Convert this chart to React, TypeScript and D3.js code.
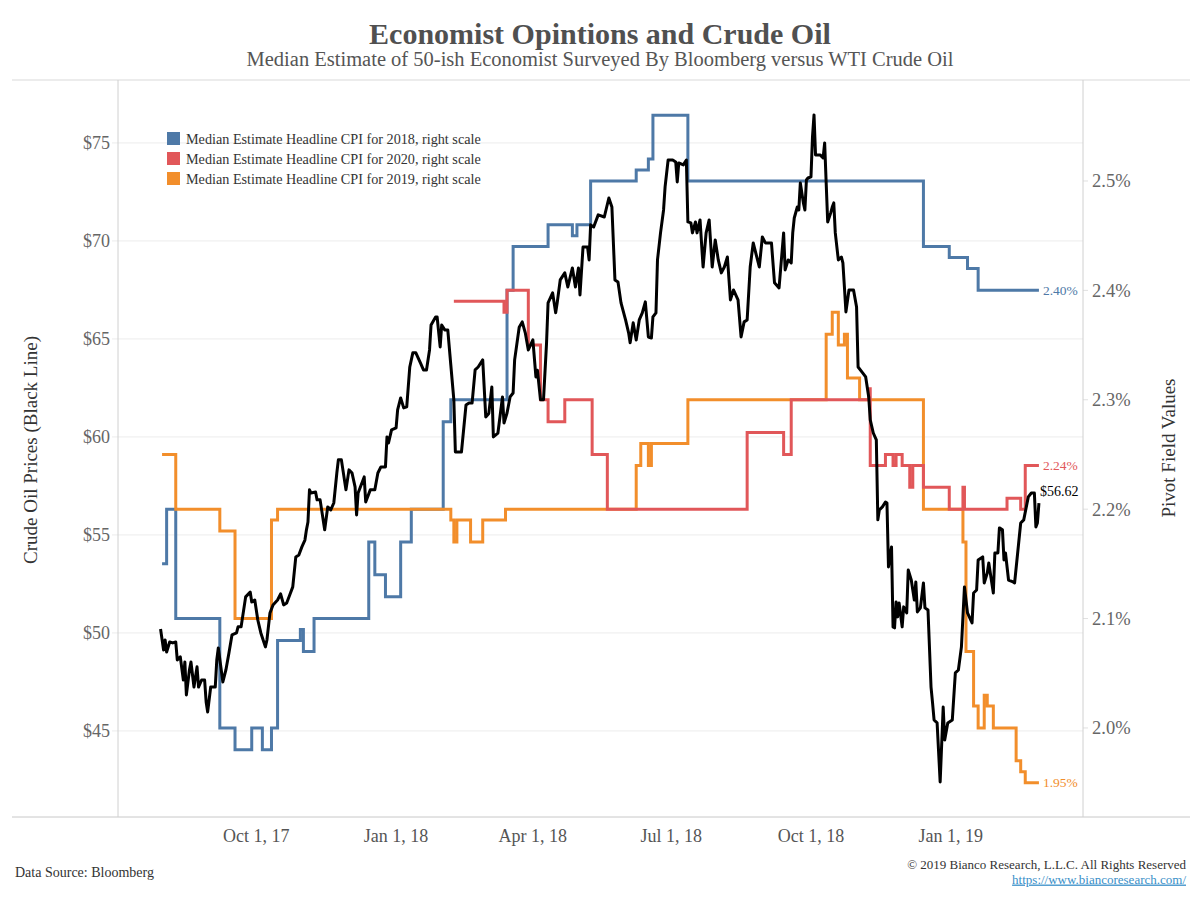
import React from "react";
import * as d3 from "d3";

// ---------- DATA ----------
const oilDates = [
"2017-07-30","2017-08-01","2017-08-02","2017-08-03","2017-08-05","2017-08-07","2017-08-09","2017-08-10","2017-08-12","2017-08-14",
"2017-08-15","2017-08-16","2017-08-18","2017-08-19","2017-08-21","2017-08-23","2017-08-24","2017-08-26","2017-08-28","2017-08-29",
"2017-08-30","2017-09-01","2017-09-04","2017-09-05","2017-09-06","2017-09-09","2017-09-11","2017-09-13","2017-09-15","2017-09-18",
"2017-09-19","2017-09-21","2017-09-24","2017-09-27","2017-09-28","2017-09-30","2017-10-02","2017-10-04","2017-10-07","2017-10-08",
"2017-10-10","2017-10-12","2017-10-15","2017-10-17","2017-10-19","2017-10-21","2017-10-23","2017-10-25","2017-10-27","2017-10-29",
"2017-10-31","2017-11-02","2017-11-03","2017-11-04","2017-11-05","2017-11-06","2017-11-09","2017-11-10","2017-11-12","2017-11-13",
"2017-11-15","2017-11-17","2017-11-19","2017-11-21","2017-11-23","2017-11-24","2017-11-26","2017-11-29","2017-12-01","2017-12-03",
"2017-12-05","2017-12-06","2017-12-07","2017-12-11","2017-12-12","2017-12-15","2017-12-18","2017-12-20","2017-12-22","2017-12-25",
"2017-12-26","2017-12-27","2017-12-29","2018-01-01","2018-01-02","2018-01-04","2018-01-06","2018-01-08","2018-01-10","2018-01-12",
"2018-01-14","2018-01-17","2018-01-19","2018-01-21","2018-01-23","2018-01-24","2018-01-27","2018-01-28","2018-01-30","2018-01-31",
"2018-02-02","2018-02-04","2018-02-06","2018-02-08","2018-02-09","2018-02-13","2018-02-16","2018-02-18","2018-02-20","2018-02-22",
"2018-02-24","2018-02-27","2018-03-01","2018-03-03","2018-03-05","2018-03-06","2018-03-09","2018-03-12","2018-03-13","2018-03-15",
"2018-03-17","2018-03-19","2018-03-20","2018-03-23","2018-03-25","2018-03-27","2018-03-29","2018-04-01","2018-04-03","2018-04-04",
"2018-04-06","2018-04-08","2018-04-10","2018-04-11","2018-04-14","2018-04-16","2018-04-17","2018-04-19","2018-04-22","2018-04-24",
"2018-04-27","2018-04-29","2018-05-01","2018-05-02","2018-05-04","2018-05-07","2018-05-08","2018-05-09","2018-05-11","2018-05-14",
"2018-05-18","2018-05-21","2018-05-23","2018-05-25","2018-05-27","2018-05-29","2018-06-01","2018-06-03","2018-06-04","2018-06-06",
"2018-06-08","2018-06-10","2018-06-12","2018-06-14","2018-06-16","2018-06-18","2018-06-19","2018-06-21","2018-06-22","2018-06-24",
"2018-06-26","2018-06-27","2018-06-29","2018-07-02","2018-07-04","2018-07-05","2018-07-06","2018-07-09","2018-07-11","2018-07-12",
"2018-07-14","2018-07-15","2018-07-17","2018-07-18","2018-07-20","2018-07-22","2018-07-24","2018-07-26","2018-07-28","2018-07-30",
"2018-08-01","2018-08-03","2018-08-05","2018-08-07","2018-08-09","2018-08-11","2018-08-14","2018-08-16","2018-08-18","2018-08-20",
"2018-08-22","2018-08-24","2018-08-28","2018-08-30","2018-09-01","2018-09-05","2018-09-07","2018-09-10","2018-09-13","2018-09-14",
"2018-09-16","2018-09-18","2018-09-19","2018-09-20","2018-09-22","2018-09-23","2018-09-24","2018-09-26","2018-09-27","2018-09-28",
"2018-09-29","2018-10-01","2018-10-02","2018-10-03","2018-10-04","2018-10-07","2018-10-09","2018-10-10","2018-10-11","2018-10-12",
"2018-10-14","2018-10-15","2018-10-16","2018-10-17","2018-10-19","2018-10-21","2018-10-22","2018-10-23","2018-10-24","2018-10-26",
"2018-10-29","2018-10-31","2018-11-01","2018-11-04","2018-11-06","2018-11-08","2018-11-09","2018-11-11","2018-11-13","2018-11-14",
"2018-11-15","2018-11-17","2018-11-19","2018-11-20","2018-11-21","2018-11-23","2018-11-24","2018-11-25","2018-11-26","2018-11-27",
"2018-11-28","2018-11-30","2018-12-01","2018-12-03","2018-12-04","2018-12-06","2018-12-08","2018-12-09","2018-12-10","2018-12-12",
"2018-12-14","2018-12-15","2018-12-17","2018-12-19","2018-12-20","2018-12-21","2018-12-23","2018-12-25","2018-12-27","2018-12-28",
"2018-12-30","2019-01-02","2019-01-04","2019-01-06","2019-01-08","2019-01-10","2019-01-12","2019-01-15","2019-01-16","2019-01-18",
"2019-01-19","2019-01-22","2019-01-23","2019-01-25","2019-01-26","2019-01-29","2019-01-30","2019-02-01","2019-02-02","2019-02-04",
"2019-02-05","2019-02-06","2019-02-08","2019-02-11","2019-02-12","2019-02-14","2019-02-16","2019-02-18","2019-02-21","2019-02-23",
"2019-02-25","2019-02-26","2019-02-27","2019-02-28"];
const oilPrices = [
50.20,49.13,49.64,49.03,49.54,49.49,49.54,48.62,48.78,47.60,
48.52,46.84,48.11,48.52,47.24,48.27,47.24,47.60,47.60,46.48,
45.97,47.24,47.24,48.62,49.23,47.50,48.11,48.98,49.90,50.00,
50.31,50.31,51.84,52.09,51.58,51.68,50.66,50.00,49.29,49.64,
51.02,51.43,51.68,51.99,51.43,51.53,51.94,52.35,53.88,53.98,
54.39,54.74,55.26,55.66,57.30,57.14,57.19,56.79,56.79,56.28,
55.26,56.43,56.28,56.63,58.16,58.83,58.83,57.30,58.32,58.16,
57.45,56.02,57.14,57.96,56.68,57.30,57.30,58.16,58.47,58.47,
60.00,59.69,60.36,60.46,61.38,61.99,61.48,61.53,63.57,64.29,
64.29,63.78,63.42,63.42,64.44,65.71,66.12,66.12,64.59,65.71,
65.46,65.46,63.67,61.89,59.23,59.23,61.63,61.73,61.73,63.42,
63.57,63.93,61.02,61.20,62.55,60.00,60.20,62.04,60.71,61.22,
62.04,62.24,63.93,65.60,65.87,65.31,64.44,64.95,63.06,63.40,
61.90,61.90,64.80,66.84,67.35,66.33,66.84,68.01,68.37,67.65,
68.62,67.65,68.62,67.24,69.69,69.69,69.03,70.82,70.71,71.33,
71.22,72.19,71.73,68.01,67.91,66.84,65.97,65.31,64.80,65.82,
64.95,65.97,66.33,66.89,65.10,65.05,66.12,66.33,69.03,70.41,
71.58,72.76,74.13,74.13,74.03,73.01,73.98,73.88,74.13,70.97,
70.92,70.41,70.97,70.41,71.07,68.67,70.41,71.07,68.67,70.05,
69.03,68.37,68.67,69.18,66.99,67.50,66.99,65.10,65.87,65.97,
68.67,69.90,68.67,70.20,69.90,69.90,67.86,67.60,70.41,68.52,
69.03,68.88,70.41,71.17,71.73,71.58,72.96,71.94,71.58,73.11,
73.21,73.27,75.31,76.43,74.39,74.39,74.23,75.00,72.96,70.97,
71.43,71.73,71.94,70.41,69.03,69.18,68.88,67.65,66.38,67.50,
67.50,66.63,63.57,63.27,63.06,62.04,60.87,60.20,59.85,55.77,
56.28,56.43,56.68,56.63,53.37,54.39,50.31,50.26,51.58,50.82,
51.53,50.31,51.33,51.02,53.21,52.70,51.68,52.60,51.07,51.28,
52.55,51.28,51.17,47.24,46.43,45.56,45.41,42.40,46.22,44.54,
45.41,45.56,47.96,48.11,49.29,52.35,51.02,50.51,52.04,52.19,
53.72,53.88,52.55,53.06,53.57,52.04,54.08,54.08,55.36,55.26,
53.72,54.08,52.70,52.60,52.55,54.08,55.61,55.77,56.94,57.14,
57.14,55.41,55.61,56.62];

const cpi2018Dates = ["2017-07-31","2017-08-03","2017-08-09","2017-09-07","2017-09-17","2017-09-28","2017-10-05","2017-10-11","2017-10-15","2017-10-30","2017-11-01","2017-11-08","2017-12-14","2017-12-18","2017-12-25","2018-01-04","2018-01-11","2018-02-01","2018-02-06","2018-03-15","2018-03-19","2018-04-11","2018-04-27","2018-04-30","2018-05-09","2018-06-08","2018-06-16","2018-06-19","2018-07-12","2018-12-14","2018-12-31","2019-01-12","2019-01-19","2019-02-28"];
const cpi2018Values = [2.15,2.20,2.10,2.00,1.98,2.00,1.98,2.00,2.08,2.09,2.07,2.10,2.17,2.14,2.12,2.17,2.20,2.28,2.30,2.40,2.44,2.46,2.45,2.46,2.50,2.51,2.52,2.56,2.50,2.44,2.43,2.42,2.40,2.40];

const cpi2020Dates = ["2018-02-08","2018-03-13","2018-03-15","2018-03-29","2018-04-06","2018-04-11","2018-04-22","2018-05-10","2018-05-20","2018-08-20","2018-09-13","2018-09-18","2018-11-08","2018-11-09","2018-11-19","2018-11-24","2018-11-26","2018-11-30","2018-12-05","2018-12-07","2018-12-14","2018-12-31","2019-01-09","2019-01-10","2019-02-07","2019-02-16","2019-02-19","2019-02-28"];
const cpi2020Values = [2.39,2.38,2.40,2.35,2.30,2.28,2.30,2.25,2.20,2.27,2.25,2.30,2.31,2.24,2.25,2.24,2.25,2.24,2.22,2.24,2.22,2.20,2.22,2.20,2.21,2.20,2.24,2.24];

const cpi2019Dates = ["2017-07-31","2017-08-09","2017-09-07","2017-09-17","2017-10-11","2017-10-15","2018-02-06","2018-02-08","2018-02-10","2018-02-19","2018-02-27","2018-03-14","2018-06-08","2018-06-11","2018-06-16","2018-06-18","2018-07-12","2018-10-11","2018-10-15","2018-10-19","2018-10-23","2018-10-25","2018-11-02","2018-12-14","2019-01-09","2019-01-11","2019-01-16","2019-01-19","2019-01-23","2019-01-25","2019-01-29","2019-02-13","2019-02-16","2019-02-19","2019-02-28"];
const cpi2019Values = [2.25,2.20,2.18,2.10,2.19,2.20,2.19,2.17,2.19,2.17,2.19,2.20,2.24,2.26,2.24,2.26,2.30,2.36,2.38,2.35,2.36,2.32,2.30,2.20,2.17,2.07,2.02,2.00,2.03,2.02,2.00,1.97,1.96,1.95,1.95];

const xTickDates = ["2017-10-01","2018-01-01","2018-04-01","2018-07-01","2018-10-01","2019-01-01"];
const xTickLabels = ["Oct 1, 17","Jan 1, 18","Apr 1, 18","Jul 1, 18","Oct 1, 18","Jan 1, 19"];
const leftTicks = [45, 50, 55, 60, 65, 70, 75];
const rightTicks = [2.0, 2.1, 2.2, 2.3, 2.4, 2.5];

const legendLabels = [
  "Median Estimate Headline CPI for 2018, right scale",
  "Median Estimate Headline CPI for 2020, right scale",
  "Median Estimate Headline CPI for 2019, right scale",
];

// ---------- STYLE ----------
const C2018 = "#4e79a7";
const C2020 = "#e15759";
const C2019 = "#f28e2b";
const FONT = "'Liberation Serif', 'DejaVu Serif', serif";

const parse = d3.timeParse("%Y-%m-%d");

export default function App() {
  const W = 1200, H = 900;
  const L = 118, R = 1083, T = 80, B = 817;

  const x = d3.scaleTime()
    .domain([new Date(2017, 6, 2), new Date(2019, 2, 29)])
    .range([L, R]);
  const yL = d3.scaleLinear().domain([40.61, 78.21]).range([B, T]);
  const yR = d3.scaleLinear().domain([1.9186, 2.5923]).range([B, T]);

  const oil = oilDates.map((d, i) => ({ d: parse(d)!, v: oilPrices[i] }));
  const mk = (ds: string[], vs: number[]) => ds.map((d, i) => ({ d: parse(d)!, v: vs[i] }));
  const s2018 = mk(cpi2018Dates, cpi2018Values);
  const s2020 = mk(cpi2020Dates, cpi2020Values);
  const s2019 = mk(cpi2019Dates, cpi2019Values);

  const oilLine = d3.line<{ d: Date; v: number }>()
    .x((p) => x(p.d)).y((p) => yL(p.v)).curve(d3.curveLinear);
  const stepLine = d3.line<{ d: Date; v: number }>()
    .x((p) => x(p.d)).y((p) => yR(p.v)).curve(d3.curveStepAfter);

  const last = (s: { d: Date; v: number }[]) => s[s.length - 1];
  const l18 = last(s2018), l20 = last(s2020), l19 = last(s2019), lo = last(oil);

  const legendColors = [C2018, C2020, C2019];

  return (
    <svg width={W} height={H} style={{ position: "absolute", left: 0, top: 0, background: "#fff" }}
      fontFamily={FONT}>
      {/* title */}
      <text x={600} y={44} textAnchor="middle" fontSize={30} fontWeight="bold" fill="#505050">
        Economist Opintions and Crude Oil
      </text>
      <text x={600} y={66} textAnchor="middle" fontSize={20.5} fill="#555">
        Median Estimate of 50-ish Economist Surveyed By Bloomberg versus WTI Crude Oil
      </text>

      {/* gridlines */}
      {leftTicks.map((t) => (
        <line key={"g" + t} x1={L - 6} x2={R} y1={yL(t)} y2={yL(t)} stroke="#ececec" strokeWidth={1} />
      ))}
      {rightTicks.map((t) => (
        <line key={"rt" + t} x1={R} x2={R + 5} y1={yR(t)} y2={yR(t)} stroke="#e0e0e0" strokeWidth={1} />
      ))}

      {/* frame */}
      <line x1={12} x2={1190} y1={T} y2={T} stroke="#d9d9d9" />
      <line x1={12} x2={1190} y1={B} y2={B} stroke="#c8c8c8" />
      <line x1={L} x2={L} y1={T} y2={B} stroke="#d0d0d0" />
      <line x1={R} x2={R} y1={T} y2={B} stroke="#d0d0d0" />

      {/* left axis labels */}
      {leftTicks.map((t) => (
        <text key={"lt" + t} x={110} y={yL(t)} dy="0.35em" textAnchor="end" fontSize={18} fill="#666">
          ${t}
        </text>
      ))}
      {/* right axis labels */}
      {rightTicks.map((t) => (
        <text key={"rl" + t} x={1092} y={yR(t)} dy="0.35em" textAnchor="start" fontSize={18.5} fill="#666">
          {t.toFixed(1)}%
        </text>
      ))}
      {/* x labels */}
      {xTickDates.map((d, i) => (
        <text key={d} x={x(parse(d)!)} y={836} dy="0.35em" textAnchor="middle" fontSize={18} fill="#555">
          {xTickLabels[i]}
        </text>
      ))}

      {/* axis titles */}
      <text transform="translate(37,450) rotate(-90)" textAnchor="middle" fontSize={19} fill="#333">
        Crude Oil Prices (Black Line)
      </text>
      <text transform="translate(1175,448) rotate(-90)" textAnchor="middle" fontSize={19} fill="#333">
        Pivot Field Values
      </text>

      {/* series */}
      <path d={stepLine(s2018)!} fill="none" stroke={C2018} strokeWidth={3} />
      <path d={stepLine(s2019)!} fill="none" stroke={C2019} strokeWidth={3} />
      <path d={stepLine(s2020)!} fill="none" stroke={C2020} strokeWidth={3} />
      <path d={oilLine(oil)!} fill="none" stroke="#000" strokeWidth={3} strokeLinejoin="round" />

      {/* end labels */}
      <text x={x(l18.d) + 4} y={yR(l18.v)} dy="0.35em" fontSize={13.5} fill={C2018}>{l18.v.toFixed(2)}%</text>
      <text x={x(l20.d) + 4} y={yR(l20.v)} dy="0.35em" fontSize={13.5} fill={C2020}>{l20.v.toFixed(2)}%</text>
      <text x={x(l19.d) + 4} y={yR(l19.v)} dy="0.35em" fontSize={13.5} fill={C2019}>{l19.v.toFixed(2)}%</text>
      <text x={x(lo.d) + 1} y={yL(lo.v) - 12} dy="0.35em" fontSize={14} fill="#000">${lo.v.toFixed(2)}</text>

      {/* legend */}
      {legendLabels.map((lab, i) => (
        <g key={lab} transform={`translate(167,${132 + i * 20})`}>
          <rect x={0} y={0} width={13} height={13} fill={legendColors[i]} />
          <text x={19} y={7} dy="0.35em" fontSize={14.2} fill="#333">{lab}</text>
        </g>
      ))}

      {/* footer */}
      <text x={15} y={872} dy="0.35em" fontSize={14} fill="#333">Data Source: Bloomberg</text>
      <text x={1186} y={864} dy="0.35em" textAnchor="end" fontSize={13} fill="#333">
        © 2019 Bianco Research, L.L.C. All Rights Reserved
      </text>
      <text x={1186} y={879} dy="0.35em" textAnchor="end" fontSize={13} fill="#3a8fc8" textDecoration="underline">
        https://www.biancoresearch.com/
      </text>
    </svg>
  );
}
